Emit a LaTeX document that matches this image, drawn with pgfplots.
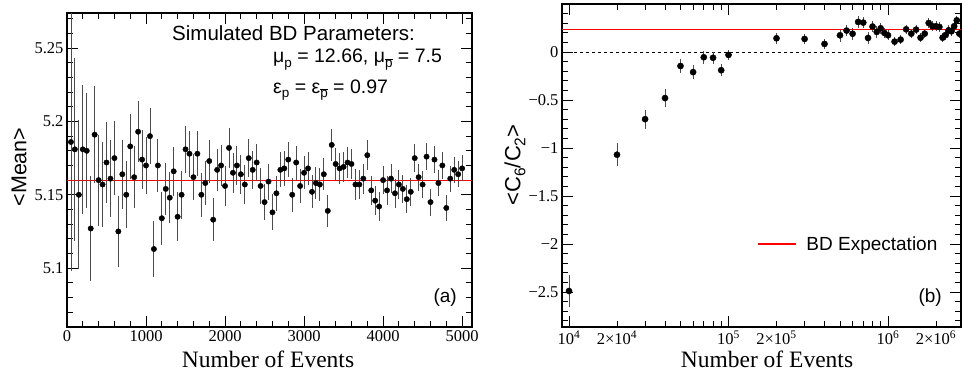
\documentclass[border=0pt]{standalone}
\usepackage{fontspec}
\setmainfont{Liberation Serif}
\newfontfamily\arial{Liberation Sans}
\usepackage{pgfplots}
\usepackage{pgfplotstable}
\pgfplotsset{compat=1.18}
\definecolor{rootred}{rgb}{1,0,0}
\newcommand\fs[1]{\fontsize{#1}{#1}\selectfont}
\newcommand\pbar{$\overline{\mbox{p}}$}

\pgfplotstableread{
x y e
50 5.186 0.0880
100 5.181 0.0622
150 5.150 0.0508
200 5.181 0.0440
250 5.180 0.0393
300 5.127 0.0359
350 5.191 0.0332
400 5.160 0.0311
450 5.157 0.0293
500 5.172 0.0278
550 5.161 0.0265
600 5.175 0.0254
650 5.125 0.0244
700 5.164 0.0235
750 5.150 0.0227
800 5.183 0.0220
850 5.162 0.0213
900 5.193 0.0207
950 5.174 0.0202
1000 5.170 0.0197
1050 5.190 0.0192
1100 5.113 0.0188
1150 5.170 0.0183
1200 5.134 0.0180
1250 5.154 0.0176
1300 5.148 0.0173
1350 5.166 0.0169
1400 5.135 0.0166
1450 5.150 0.0163
1500 5.181 0.0161
1550 5.178 0.0158
1600 5.162 0.0156
1650 5.178 0.0153
1700 5.150 0.0151
1750 5.158 0.0149
1800 5.173 0.0147
1850 5.133 0.0145
1900 5.167 0.0143
1950 5.170 0.0141
2000 5.156 0.0139
2050 5.182 0.0137
2100 5.165 0.0136
2150 5.170 0.0134
2200 5.164 0.0133
2250 5.157 0.0131
2300 5.175 0.0130
2350 5.167 0.0128
2400 5.172 0.0127
2450 5.156 0.0126
2500 5.145 0.0124
2550 5.159 0.0123
2600 5.138 0.0122
2650 5.151 0.0121
2700 5.167 0.0120
2750 5.168 0.0119
2800 5.174 0.0118
2850 5.150 0.0117
2900 5.172 0.0116
2950 5.156 0.0115
3000 5.165 0.0114
3050 5.168 0.0113
3100 5.152 0.0112
3150 5.158 0.0111
3200 5.157 0.0110
3250 5.164 0.0109
3300 5.139 0.0108
3350 5.184 0.0107
3400 5.171 0.0107
3450 5.168 0.0106
3500 5.169 0.0105
3550 5.172 0.0104
3600 5.171 0.0104
3650 5.157 0.0103
3700 5.157 0.0102
3750 5.161 0.0102
3800 5.177 0.0101
3850 5.153 0.0100
3900 5.146 0.0100
3950 5.142 0.0099
4000 5.160 0.0098
4050 5.153 0.0098
4100 5.161 0.0097
4150 5.151 0.0097
4200 5.157 0.0096
4250 5.154 0.0095
4300 5.147 0.0095
4350 5.152 0.0094
4400 5.175 0.0094
4450 5.162 0.0093
4500 5.157 0.0093
4550 5.176 0.0092
4600 5.145 0.0092
4650 5.174 0.0091
4700 5.158 0.0091
4750 5.170 0.0090
4800 5.141 0.0090
4850 5.161 0.0089
4900 5.167 0.0089
4950 5.164 0.0088
5000 5.168 0.0088
}\meandata

\pgfplotstableread{
x y e
1e4 -2.49 0.17
2e4 -1.07 0.12
3e4 -0.70 0.10
4e4 -0.48 0.09
5e4 -0.146 0.075
6e4 -0.21 0.07
7e4 -0.055 0.065
8e4 -0.06 0.06
9e4 -0.19 0.06
1e5 -0.03 0.055
2e5 0.143 0.055
3e5 0.136 0.05
4e5 0.084 0.05
5e5 0.174 0.07
5.5e5 0.223 0.06
6e5 0.19 0.06
6.5e5 0.313 0.06
7e5 0.306 0.06
7.5e5 0.146 0.06
8e5 0.265 0.06
8.5e5 0.209 0.06
9e5 0.247 0.06
9.5e5 0.198 0.05
1e6 0.174 0.05
1.1e6 0.108 0.05
1.2e6 0.129 0.05
1.3e6 0.236 0.05
1.4e6 0.191 0.05
1.5e6 0.233 0.05
1.6e6 0.149 0.05
1.7e6 0.191 0.05
1.8e6 0.302 0.05
1.9e6 0.268 0.05
2.0e6 0.268 0.05
2.1e6 0.261 0.05
2.2e6 0.149 0.05
2.3e6 0.177 0.05
2.4e6 0.226 0.05
2.5e6 0.215 0.05
2.6e6 0.268 0.05
2.7e6 0.330 0.05
2.8e6 0.191 0.05
}\ccdata

\pgfplotsset{
  rootstyle/.style={
    scale only axis,
    tick align=inside,
    major tick length=11pt,
    minor tick length=6pt,
    axis line style={line width=1.1pt, black},
    every tick/.append style={line width=0.9pt, black},
    tick label style={font=\fs{16.5}},
  },
}

\begin{document}
\begin{tikzpicture}
\path[use as bounding box] (0pt,0pt) rectangle (962pt,383pt);

% ---------------- left panel ----------------
\begin{axis}[rootstyle,
  at={(67pt,56pt)}, anchor=south west,
  width=405pt, height=314pt,
  xmin=0, xmax=5125, ymin=5.0598, ymax=5.274,
  xtick={0,1000,2000,3000,4000,5000},
  xticklabels={0,1000,2000,3000,4000,5000},
  minor xtick={200,400,...,5000},
  ytick={5.1,5.15,5.2,5.25},
  yticklabels={5.1,5.15,5.2,5.25},
  minor ytick={5.06,5.07,5.08,5.09,5.11,5.12,5.13,5.14,5.16,5.17,5.18,5.19,5.21,5.22,5.23,5.24,5.26,5.27},
]
\addplot[color=rootred, line width=1pt, no marks] coordinates {(0,5.16) (5125,5.16)};
\addplot[only marks, mark=*, mark size=2.7pt, black,
    error bars/.cd, y dir=both, y explicit,
    error bar style={line width=0.9pt, black!70}, error mark=none]
  table[x=x, y=y, y error=e] {\meandata};
\end{axis}

% ---------------- right panel ----------------
\begin{axis}[rootstyle,
  at={(562pt,56pt)}, anchor=south west,
  width=399pt, height=323pt,
  clip=false,
  xmode=log, log basis x=10,
  xmin=9040, xmax=2.87e6, ymin=-2.865, ymax=0.5,
  xtick={1e4,1e5,1e6},
  xticklabels={10\textsuperscript{4},10\textsuperscript{5},10\textsuperscript{6}},
  extra x ticks={2e4,2e5,2e6},
  extra x tick labels={2×10\textsuperscript{4},2×10\textsuperscript{5},2×10\textsuperscript{6}},
  extra x tick style={major tick length=6pt},
  minor xtick={3e4,4e4,5e4,6e4,7e4,8e4,9e4,3e5,4e5,5e5,6e5,7e5,8e5,9e5},
  ytick={-2.5,-2,-1.5,-1,-0.5,0},
  yticklabels={−2.5,−2,−1.5,−1,−0.5,0},
  minor ytick={-2.8,-2.7,-2.6,-2.4,-2.3,-2.2,-2.1,-1.9,-1.8,-1.7,-1.6,-1.4,-1.3,-1.2,-1.1,-0.9,-0.8,-0.7,-0.6,-0.4,-0.3,-0.2,-0.1,0.1,0.2,0.3,0.4},
  legend style={draw=none, fill=none, at={(0.489,0.257)}, anchor=west,
    font=\arial\fs{19}, inner sep=0pt},
  legend image code/.code={\draw[rootred, line width=1.1pt] (0pt,0pt) -- (38pt,0pt);},
]
\addplot[forget plot, draw=black, line width=0.8pt, dash pattern=on 3pt off 3pt, mark=none] coordinates {(9040,0) (2.87e6,0)};
\addplot[forget plot, only marks, mark=*, mark size=3.1pt, black,
    error bars/.cd, y dir=both, y explicit,
    error bar style={line width=0.9pt, black!70}, error mark=none]
  table[x=x, y=y, y error=e] {\ccdata};
\addplot[forget plot, draw=rootred, line width=1.1pt, mark=none, solid] coordinates {(9040,0.235) (2.87e6,0.235)};
\addlegendimage{draw=rootred, line width=1.1pt}
\addlegendentry{\hspace{8pt}BD Expectation}
\end{axis}

% ---------------- texts ----------------
\node[anchor=base west, inner sep=0pt, font=\arial\fs{20.5}] at (172pt,342pt) {Simulated BD Parameters:};
\node[anchor=base west, inner sep=0pt, font=\arial\fs{19.5}] at (273pt,320pt)
  {μ\raisebox{-5pt}{\fs{13.5}p} = 12.66, μ\raisebox{-5pt}{\fs{13.5}\pbar} = 7.5};
\node[anchor=base west, inner sep=0pt, font=\arial\fs{19.5}] at (273pt,289pt)
  {ε\raisebox{-4pt}{\fs{13.5}p} = ε\raisebox{-4pt}{\fs{13.5}\pbar} = 0.97};
\node[anchor=base east, inner sep=0pt, font=\arial\fs{19}] at (457pt,80pt) {(a)};
\node[anchor=base east, inner sep=0pt, font=\arial\fs{19}] at (942pt,80pt) {(b)};

\node[anchor=base, inner sep=0pt, font=\fs{23.5}] at (268pt,15pt) {Number of Events};
\node[anchor=base, inner sep=0pt, font=\fs{23.5}] at (767pt,15pt) {Number of Events};

\node[rotate=90, inner sep=0pt, font=\arial\fs{21.5}] at (19pt,216pt) {<Mean>};
\node[rotate=90, inner sep=0pt, font=\arial\fs{22}] at (515pt,218pt)
  {<C\raisebox{-5pt}{\fs{15.5}6}/C\raisebox{-5pt}{\fs{15.5}2}>};
\end{tikzpicture}
\end{document}
